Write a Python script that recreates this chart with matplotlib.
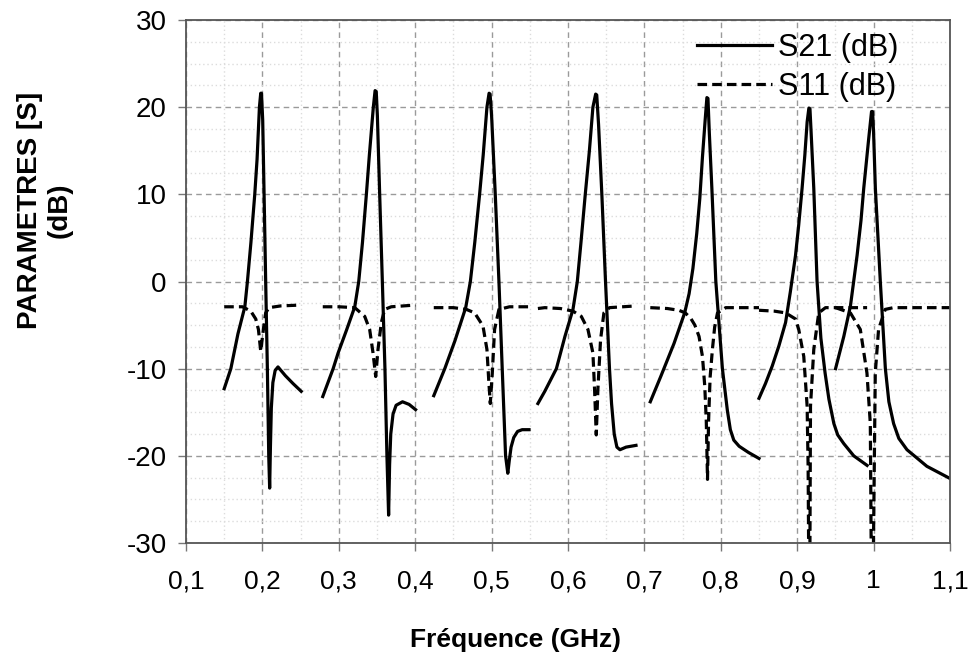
import matplotlib.pyplot as plt
from matplotlib.ticker import MultipleLocator, FixedLocator

# S21 (dB) : un segment par resonateur
s21_freq = [
    [0.150, 0.1587, 0.168, 0.177, 0.1804, 0.185, 0.190, 0.193, 0.1961, 0.1978, 0.1988,
     0.2004, 0.2022, 0.2043, 0.2065, 0.2083, 0.2095, 0.2105, 0.2117, 0.2137, 0.2167,
     0.2204, 0.230, 0.240, 0.2508],
    [0.279, 0.2926, 0.2991, 0.310, 0.3209, 0.3261, 0.331, 0.3361, 0.340, 0.3452,
     0.3475, 0.349, 0.3505, 0.3535, 0.357, 0.3604, 0.363, 0.3652, 0.3665, 0.368, 0.371,
     0.375, 0.3834, 0.392, 0.4005],
    [0.4243, 0.4387, 0.452, 0.4661, 0.4722, 0.478, 0.4843, 0.489, 0.4939, 0.4967, 0.498,
     0.500, 0.5048, 0.5096, 0.5139, 0.5183, 0.5212, 0.5232, 0.5255, 0.529, 0.534,
     0.540, 0.549],
    [0.5606, 0.5696, 0.5848, 0.596, 0.6065, 0.6122, 0.617, 0.6226, 0.628, 0.6326,
     0.6362, 0.6376, 0.640, 0.6443, 0.6491, 0.6543, 0.657, 0.6605, 0.664, 0.668, 0.676,
     0.689],
    [0.7077, 0.7214, 0.7388, 0.7527, 0.7585, 0.7635, 0.7685, 0.7725, 0.776, 0.7795,
     0.7818, 0.7832, 0.785, 0.7883, 0.7935, 0.8021, 0.8086, 0.8125, 0.817, 0.824, 0.836,
     0.850],
    [0.850, 0.8585, 0.8673, 0.876, 0.8848, 0.891, 0.8978, 0.902, 0.9064, 0.910, 0.913,
     0.9153, 0.9167, 0.918, 0.9217, 0.926, 0.931, 0.9365, 0.9415, 0.948, 0.953, 0.961,
     0.974, 0.9915],
    [0.9502, 0.961, 0.9697, 0.9784, 0.9835, 0.9871, 0.9936, 0.9973, 0.9987, 1.000,
     1.0023, 1.0088, 1.0154, 1.020, 1.0262, 1.033, 1.0437, 1.0697, 1.100],
]
s21_db = [
    [-12.3, -10.0, -6.0, -2.9, 0.0, 4.5, 10.0, 14.0, 20.0, 21.6, 21.6,
     18.5, 10.0, 0.0, -10.0, -20.0, -23.7, -19.0, -14.5, -11.6, -10.2,
     -9.8, -10.8, -11.7, -12.6],
    [-13.2, -10.0, -8.2, -5.6, -2.9, 0.0, 4.5, 10.0, 14.5, 20.0,
     21.9, 21.8, 19.0, 10.0, 0.0, -10.0, -20.0, -26.8, -21.0, -17.5, -15.2,
     -14.2, -13.8, -14.1, -14.7],
    [-13.1, -10.0, -6.8, -3.0, 0.0, 4.5, 10.0, 14.5, 20.0, 21.6, 21.5,
     19.0, 10.0, 0.0, -10.0, -20.0, -22.0, -20.5, -19.0, -17.9, -17.2,
     -17.0, -17.0],
    [-14.0, -12.6, -10.0, -6.3, -3.2, 0.0, 4.5, 10.0, 15.0, 20.0,
     21.5, 21.4, 18.0, 10.0, 0.0, -10.0, -14.0, -17.5, -19.0, -19.3, -19.0,
     -18.8],
    [-13.8, -10.9, -7.1, -3.6, -1.4, 1.5, 5.5, 9.5, 14.3, 18.5,
     21.1, 21.0, 17.0, 10.7, 0.0, -10.0, -14.8, -17.0, -18.2, -18.9, -19.6,
     -20.3],
    [-13.4, -11.7, -9.7, -7.4, -4.7, -1.2, 3.0, 6.5, 10.7, 14.5, 18.3,
     19.9, 19.8, 17.5, 10.7, 0.0, -6.5, -10.5, -13.5, -16.3, -17.6, -18.6,
     -20.0, -21.1],
    [-10.0, -6.3, -2.8, 3.0, 7.0, 10.7, 16.4, 19.5, 19.5, 17.0,
     10.7, 0.0, -10.0, -13.8, -16.3, -18.0, -19.3, -21.2, -22.6],
]

# S11 (dB)
s11_freq = [
    [0.150, 0.1739, 0.1848, 0.1913, 0.1948, 0.1978, 0.2013, 0.2043, 0.2087, 0.2239,
     0.2508],
    [0.279, 0.300, 0.3209, 0.3339, 0.3404, 0.3448, 0.3483, 0.3513, 0.3557, 0.360,
     0.3687, 0.4005],
    [0.4243, 0.450, 0.467, 0.4778, 0.4887, 0.4939, 0.4965, 0.4983, 0.5009, 0.5039,
     0.5096, 0.5235, 0.549],
    [0.5606, 0.5696, 0.590, 0.6065, 0.6174, 0.6261, 0.6326, 0.6348, 0.637, 0.6391,
     0.6426, 0.647, 0.6543, 0.689],
    [0.7077, 0.730, 0.745, 0.7535, 0.7605, 0.766, 0.7715, 0.776, 0.779, 0.781,
     0.7826, 0.784, 0.786, 0.789, 0.792, 0.7957, 0.8065, 0.850],
    [0.850, 0.870, 0.8848, 0.8978, 0.902, 0.9086, 0.913, 0.9143, 0.916, 0.9174,
     0.9217, 0.9282, 0.937, 0.9915],
    [0.9502, 0.9696, 0.9826, 0.9913, 0.9957, 0.998, 1.0022, 1.0065, 1.0152, 1.026,
     1.100],
]
s11_db = [
    [-2.9, -2.9, -3.4, -4.3, -5.5, -8.0, -5.5, -3.6, -3.0, -2.8,
     -2.7],
    [-2.9, -2.9, -3.0, -4.0, -5.5, -8.2, -10.9, -7.8, -4.7, -3.2,
     -2.9, -2.7],
    [-3.0, -3.0, -3.2, -3.6, -5.1, -7.8, -11.7, -14.0, -10.5, -5.5,
     -3.2, -2.9, -2.9],
    [-3.1, -3.0, -3.1, -3.4, -4.0, -5.5, -8.2, -12.4, -17.6, -12.4,
     -6.7, -3.6, -3.0, -2.8],
    [-3.0, -3.1, -3.3, -3.6, -4.2, -5.0, -6.3, -8.6, -12.0, -16.0,
     -22.7, -16.0, -11.0, -7.8, -5.2, -3.6, -3.0, -3.0],
    [-3.3, -3.4, -3.6, -4.3, -5.5, -8.6, -14.3, -21.3, -45.0, -14.3,
     -7.8, -3.6, -3.0, -3.0],
    [-3.0, -3.6, -5.5, -10.5, -16.3, -45.0, -10.5, -5.5, -3.2, -3.0,
     -3.0],
]

x_ticks = [0.1, 0.2, 0.3, 0.4, 0.5, 0.6, 0.7, 0.8, 0.9, 1.0, 1.1]
x_labels = ['0,1', '0,2', '0,3', '0,4', '0,5', '0,6', '0,7', '0,8', '0,9', '1', '1,1']

plt.rcParams['font.family'] = ['Liberation Sans', 'DejaVu Sans']
plt.rcParams['axes.unicode_minus'] = False

fig = plt.figure(figsize=(9.69, 6.62), dpi=100)
ax = fig.add_axes([186 / 969, 1 - 543 / 662, (950 - 186) / 969, (543 - 20) / 662])

for i in range(len(s21_freq)):
    ax.plot(s21_freq[i], s21_db[i], color='black', lw=2.3,
            label='S21 (dB)' if i == 0 else None)
for i in range(len(s11_freq)):
    ax.plot(s11_freq[i], s11_db[i], color='black', lw=2.3, linestyle=(0, (3.0, 1.6)),
            label='S11 (dB)' if i == 0 else None)

ax.set_xlim(0.1, 1.1)
ax.set_ylim(-30, 30)
ax.xaxis.set_major_locator(FixedLocator(x_ticks))
ax.set_xticklabels(x_labels)
ax.xaxis.set_minor_locator(MultipleLocator(0.05))
ax.yaxis.set_major_locator(MultipleLocator(10))
ax.yaxis.set_minor_locator(MultipleLocator(2.5))

ax.grid(True, which='major', color='#9a9a9a', lw=1.0, linestyle=(0, (4, 3)))
ax.grid(True, which='minor', color='#dcdcdc', lw=1.0, linestyle=(0, (1, 2)))
ax.set_axisbelow(True)

for sp in ax.spines.values():
    sp.set_color('#555555')
    sp.set_linewidth(1.3)

ax.tick_params(which='major', direction='out', length=6, width=1.0, color='#777777',
               labelsize=20)
ax.tick_params(axis='x', which='major', pad=13, labelsize=19)
ax.tick_params(axis='y', which='major', pad=8)
ax.tick_params(which='minor', length=0)

fig.text(45 / 969, 1 - 210 / 662, 'PARAMETRES [S]\n(dB)', rotation=90, ha='center',
         va='center', fontsize=20, fontweight='bold', multialignment='center',
         linespacing=1.15)
fig.text(516 / 969, 1 - 640 / 662, 'Fréquence (GHz)', ha='center', va='center',
         fontsize=19, fontweight='bold')

ax.legend(loc='upper right', frameon=False, fontsize=22, handlelength=2.45,
          handletextpad=0.2, labelspacing=0.28, borderaxespad=0.1,
          bbox_to_anchor=(0.952, 1.004))

fig.savefig('out.png', dpi=100)
